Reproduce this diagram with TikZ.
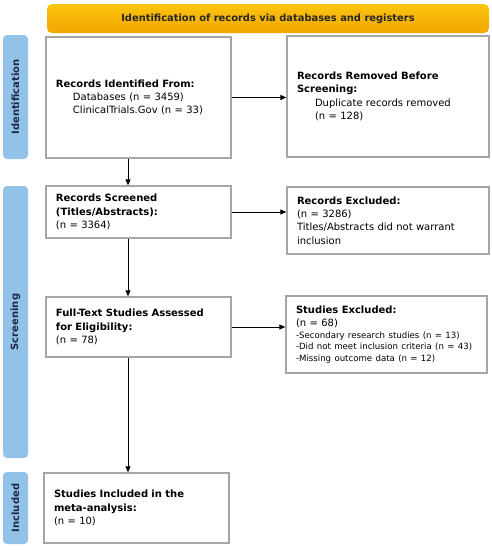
\documentclass[tikz,border=0pt]{standalone}
\usepackage{fontspec}
\setmainfont{DejaVu Sans}
\usetikzlibrary{arrows.meta,calc}
\definecolor{sidebl}{HTML}{92C2E8}
\definecolor{sidetx}{HTML}{1E2A44}
\definecolor{boxgr}{HTML}{A6A6A6}
\definecolor{bantop}{HTML}{FBC510}
\definecolor{banbot}{HTML}{F2A600}
\tikzset{
  flowbox/.style={draw=boxgr, line width=1.3pt, fill=white, rectangle, inner xsep=10pt, inner ysep=2pt,
    align=left, font=\fontsize{10}{13.3}\selectfont},
  sidebar/.style={fill=sidebl, rounded corners=4pt, draw=none},
  sidelabel/.style={rotate=90, font=\fontsize{10}{12}\selectfont\bfseries, text=sidetx},
  arr/.style={-{Triangle[length=6pt,width=5pt]}, line width=1pt, black}
}
\newcommand{\smalltx}{\fontsize{8.6}{12}\selectfont}
\begin{document}
\begin{tikzpicture}[x=1pt,y=-1pt]
\useasboundingbox (0,0) rectangle (492,550);
% banner
\node[rounded corners=5pt, top color=bantop, bottom color=banbot, minimum width=442pt, minimum height=29pt,
  inner sep=0pt, font=\fontsize{9.9}{12}\selectfont\bfseries, text=black!85] (ban) at (268,18.5)
  {Identification of records via databases and registers};
% side bars
\node[sidebar, minimum width=25pt, minimum height=124pt, inner sep=0pt] (sb1) at (15.5,97) {};
\node[sidelabel] (sl1) at (sb1.center) {Identification};
\node[sidebar, minimum width=25pt, minimum height=272pt, inner sep=0pt] (sb2) at (15.5,322) {};
\node[sidelabel] (sl2) at (sb2.center) {Screening};
\node[sidebar, minimum width=25pt, minimum height=72pt, inner sep=0pt] (sb3) at (15.5,508) {};
\node[sidelabel] (sl3) at (sb3.center) {Included};
% boxes
\node[flowbox, text width=165pt, minimum height=121pt] (b1) at (138.5,97.5)
  {\textbf{Records Identified From:}\\
   \hspace*{17pt}Databases (n = 3459)\\
   \hspace*{17pt}ClinicalTrials.Gov (n = 33)};
\node[flowbox, text width=182pt, minimum height=121pt] (b2) at (388,96.5)
  {\textbf{Records Removed Before}\\
   \textbf{Screening:}\\
   \hspace*{18pt}Duplicate records removed\\
   \hspace*{18pt}(n = 128)};
\node[flowbox, text width=165pt, minimum height=52pt] (b3) at (138.5,212)
  {\textbf{Records Screened}\\
   \textbf{(Titles/Abstracts):}\\
   (n = 3364)};
\node[flowbox, text width=182pt, minimum height=67pt] (b4) at (388,220.5)
  {\textbf{Records Excluded:}\\
   (n = 3286)\\
   Titles/Abstracts did not warrant\\
   inclusion};
\node[flowbox, text width=181pt, minimum height=77pt] (b6) at (386.5,334.5)
  {\textbf{Studies Excluded:}\\
   (n = 68)\\[-1.5pt]
   {\smalltx -Secondary research studies (n = 13)}\\[-1.5pt]
   {\smalltx -Did not meet inclusion criteria (n = 43)}\\[-1.5pt]
   {\smalltx -Missing outcome data (n = 12)}};
\node[flowbox, text width=165pt, minimum height=60pt] (b5) at (138.5,327)
  {\textbf{Full-Text Studies Assessed}\\
   \textbf{for Eligibility:}\\
   (n = 78)};
\node[flowbox, text width=165pt, minimum height=70pt] (b7) at (136.5,508)
  {\textbf{Studies Included in the}\\
   \textbf{meta-analysis:}\\
   (n = 10)};
% arrows
\coordinate (ax) at (128,0);
\draw[arr] (b1.east) -- (b2.west |- b1.east);
\draw[arr] (b3.east) -- (b4.west |- b3.east);
\draw[arr] (b5.east) -- (b6.west |- b5.east);
\draw[arr] (b1.south -| ax) -- (b3.north -| ax);
\draw[arr] (b3.south -| ax) -- (b5.north -| ax);
\draw[arr] (b5.south -| ax) -- (b7.north -| ax);
\end{tikzpicture}
\end{document}
